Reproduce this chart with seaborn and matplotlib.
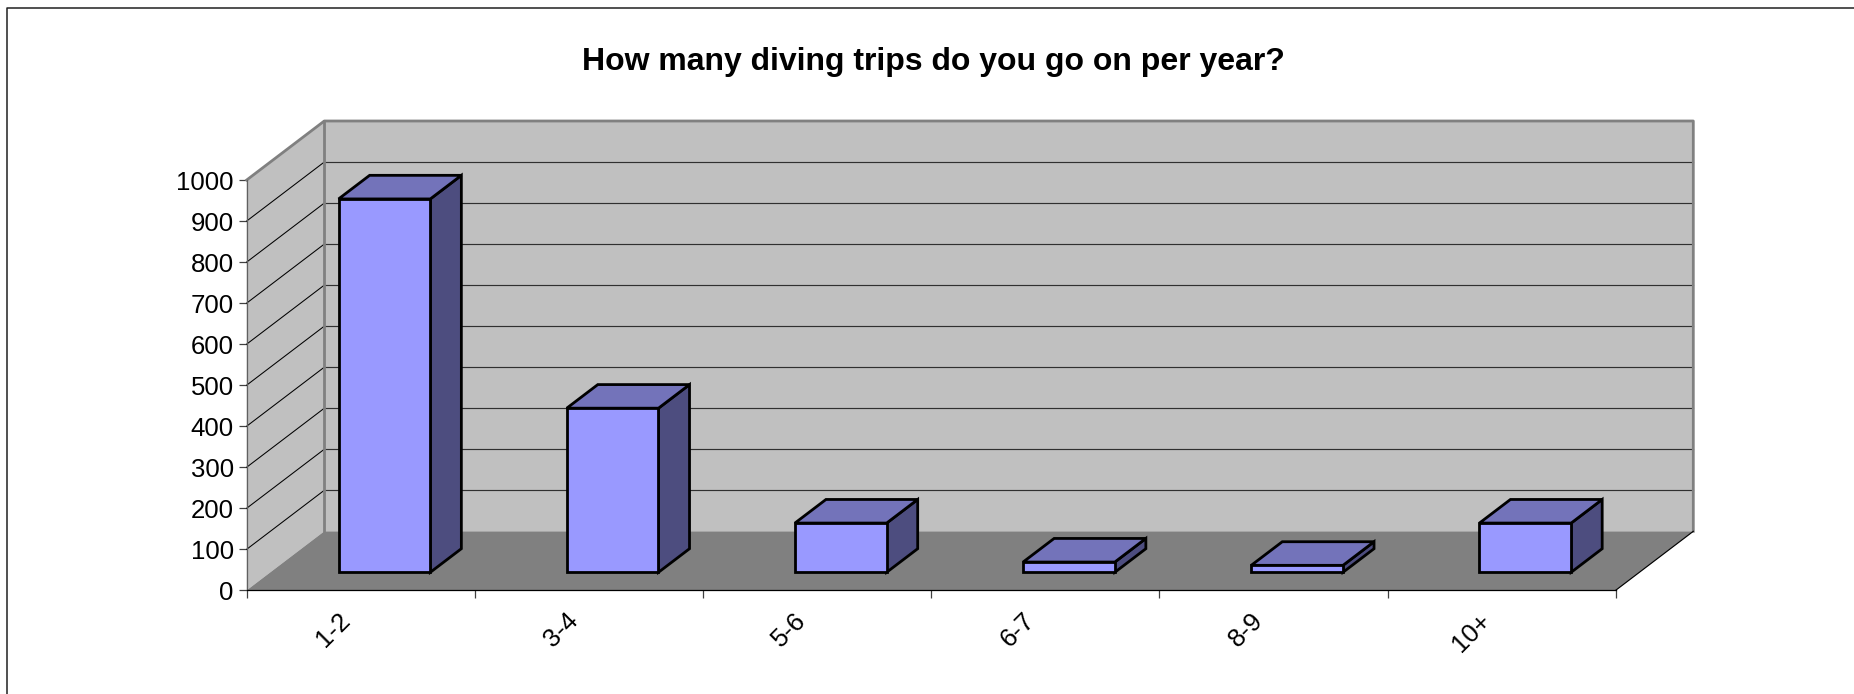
import matplotlib
matplotlib.use("Agg")
import matplotlib.pyplot as plt
from matplotlib.lines import Line2D
from matplotlib.patches import Polygon
from matplotlib.transforms import Affine2D
import pandas as pd
import seaborn as sns

categories = ["1-2", "3-4", "5-6", "6-7", "8-9", "10+"]
trips = [910, 400, 120, 25, 17, 120]
y_ticks = list(range(0, 1001, 100))
title = "How many diving trips do you go on per year?"

WALL, FLOOR, EDGE = "#C0C0C0", "#808080", "#808080"
FRONT, TOP, SIDE = "#9999FF", "#7373BA", "#4D4D7F"

sns.set_theme(style="white")
plt.rcParams["font.family"] = ["Liberation Sans", "DejaVu Sans"]

W, H = 1854, 694
fig = plt.figure(figsize=(W / 100, H / 100), dpi=100, facecolor="white")
x0, x1, y0, y1 = 246.7, 1615.7, 590.3, 180.0
ax = fig.add_axes([x0 / W, 1 - y0 / H, (x1 - x0) / W, (y0 - y1) / H])
ax.patch.set_visible(False)

df = pd.DataFrame({"trips": categories, "count": trips})
sns.barplot(data=df, x="trips", y="count", ax=ax, color=FRONT, saturation=1,
            width=0.402, edgecolor="black", linewidth=2.0)
ax.set_xlim(-0.5, 5.5)
ax.set_ylim(0, 1000)
ax.set_xlabel("")
ax.set_ylabel("")

# Oblique projection: depth expressed in data units
DX = 77.6 / ((x1 - x0) / 6)
DY = 59.0 / ((y0 - y1) / 1000)
xa, xb = -0.5, 5.5


def poly(points, fc, z, ec="none", lw=0):
    ax.add_patch(Polygon(points, closed=True, facecolor=fc, edgecolor=ec, linewidth=lw,
                         zorder=z, clip_on=False, joinstyle="miter"))


def line(xs, ys, color, lw, z):
    ax.add_line(Line2D(xs, ys, color=color, lw=lw, zorder=z, clip_on=False,
                       solid_capstyle="projecting"))


poly([(xa, 0), (xa + DX, DY), (xa + DX, 1000 + DY), (xa, 1000)], WALL, 0.5)
poly([(xa + DX, DY), (xb + DX, DY), (xb + DX, 1000 + DY), (xa + DX, 1000 + DY)], WALL, 0.5)
poly([(xa, 0), (xb, 0), (xb + DX, DY), (xa + DX, DY)], FLOOR, 0.6)

for v in y_ticks[1:-1]:
    line([xa, xa + DX], [v, v + DY], "black", 0.75, 0.8)
    line([xa + DX, xb + DX], [v + DY, v + DY], "#303030", 0.85, 0.8)

line([xa, xa + DX, xb + DX, xb + DX], [1000, 1000 + DY, 1000 + DY, DY], EDGE, 2.0, 0.9)
line([xa + DX, xa + DX], [DY, 1000 + DY], EDGE, 2.0, 0.9)
line([xb, xb + DX], [0, DY], "black", 0.85, 0.9)

# Move the library's bars to their depth slot and add the side and top faces
F0, F1 = 0.305, 0.705
for p in ax.patches[:]:
    if not hasattr(p, "get_height"):
        continue
    left, w, h = p.get_x(), p.get_width(), p.get_height()
    lx, by = left + F0 * DX, F0 * DY
    rx = lx + w
    ddx, ddy = (F1 - F0) * DX, (F1 - F0) * DY
    p.set_x(lx)
    p.set_y(by)
    p.set_clip_on(False)
    p.set_zorder(3)
    p.set_joinstyle("miter")
    poly([(rx, by), (rx + ddx, by + ddy), (rx + ddx, by + h + ddy), (rx, by + h)],
         SIDE, 2.9, "black", 2.0)
    poly([(lx, by + h), (rx, by + h), (rx + ddx, by + h + ddy), (lx + ddx, by + h + ddy)],
         TOP, 2.9, "black", 2.0)

# Axes
for s in ("top", "right"):
    ax.spines[s].set_visible(False)
ax.spines["left"].set_color("#606060")
ax.spines["left"].set_linewidth(0.9)
ax.spines["bottom"].set_color("black")
ax.spines["bottom"].set_linewidth(0.9)

ax.set_yticks(y_ticks)
ax.set_yticklabels([str(v) for v in y_ticks])
ax.tick_params(axis="y", which="major", left=True, length=5.8, width=0.9, color="#404040",
               pad=3.6, labelsize=18.5, labelcolor="black")
ax.set_xticks(range(len(categories)))
ax.set_xticklabels(categories, rotation=45, ha="right", va="top", rotation_mode="anchor")
ax.set_xticks([i - 0.5 for i in range(len(categories) + 1)], minor=True)
ax.tick_params(axis="x", which="major", bottom=False, length=0, pad=13, labelsize=18.5,
               labelcolor="black")
ax.tick_params(axis="x", which="minor", bottom=True, length=5.8, width=0.9, color="#404040")
for lab in ax.get_xticklabels():
    lab.set_transform(lab.get_transform() + Affine2D().translate(-23, 0))

fig.text(933 / W, 1 - 62 / H, title, ha="center", va="center", fontsize=23,
         fontweight="bold", color="black")

# Chart-area frame (left and top edges are inside the picture)
fig.add_artist(Line2D([6.5 / W, 6.5 / W, 1], [0, 1 - 7.5 / H, 1 - 7.5 / H], color="#202020", lw=1.1,
                      transform=fig.transFigure))

fig.savefig("out.png", dpi=100, facecolor="white")
